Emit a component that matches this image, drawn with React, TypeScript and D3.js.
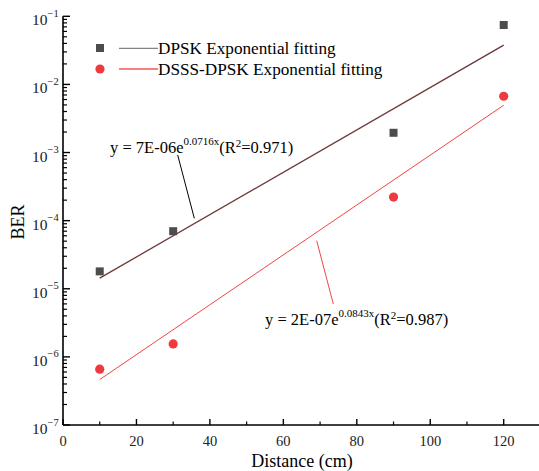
import React from "react";
import * as d3 from "d3";

const distances = [10, 30, 90, 120];
const dpskBER = [1.8e-5, 7.0e-5, 1.95e-3, 0.0745];
const dsssBER = [6.6e-7, 1.55e-6, 2.22e-4, 6.7e-3];
const seriesNames = ["DPSK Exponential fitting", "DSSS-DPSK Exponential fitting"];
const fitRange = [10, 120];
const dpskFit = { a: 7e-6, b: 0.0716, r2: "0.971", aLabel: "7E-06", bLabel: "0.0716x" };
const dsssFit = { a: 2e-7, b: 0.0843, r2: "0.987", aLabel: "2E-07", bLabel: "0.0843x" };
const xTicks = [0, 20, 40, 60, 80, 100, 120];
const yExponents = [-1, -2, -3, -4, -5, -6, -7];

const W = 539, H = 471;
const FONT = "Liberation Serif, Times New Roman, serif";

export default function App() {
  const x = d3.scaleLinear().domain([0, 130]).range([63, 63 + 130 * 3.6725]);
  const y = d3.scaleLog().domain([1e-7, 1e-1]).range([425, 16.3]);
  const x0 = x(0), y0 = y(1e-7);

  const fitLine = (f: { a: number; b: number }) => {
    const pts = fitRange.map((d) => [d, f.a * Math.exp(f.b * d)] as [number, number]);
    return d3.line<[number, number]>().x((d) => x(d[0])).y((d) => y(d[1]))(pts) || "";
  };

  const minorY: number[] = [];
  for (let e = -7; e < -1; e++) for (let k = 2; k <= 9; k++) minorY.push(k * Math.pow(10, e));
  const minorX = [10, 30, 50, 70, 90, 110, 130];

  const dpskLineColor = "#6e3838";
  const dsssLineColor = "#f04545";
  const sqColor = "#4d4d4d";
  const ptColor = "#ee3a3e";

  return (
    <svg width={W} height={H} style={{ position: "absolute", left: 0, top: 0, fontFamily: FONT }}>
      <rect width={W} height={H} fill="#fff" />
      <path d={fitLine(dpskFit)} stroke={dpskLineColor} strokeWidth={1.3} fill="none" />
      <path d={fitLine(dsssFit)} stroke={dsssLineColor} strokeWidth={1} fill="none" />
      {distances.map((d, i) => (
        <rect key={"s" + i} x={x(d) - 4} y={y(dpskBER[i]) - 4} width={8} height={8} fill={sqColor} />
      ))}
      {distances.map((d, i) => (
        <circle key={"c" + i} cx={x(d)} cy={y(dsssBER[i])} r={4.6} fill={ptColor} />
      ))}
      <line x1={x0} y1={y(1e-1)} x2={x0} y2={y0} stroke="#000" strokeWidth={1.6} />
      <line x1={x0} y1={y0} x2={W} y2={y0} stroke="#000" strokeWidth={1.6} />
      {yExponents.map((e) => (
        <line key={"ym" + e} x1={x0} x2={x0 + 7} y1={y(Math.pow(10, e))} y2={y(Math.pow(10, e))} stroke="#000" strokeWidth={1.4} />
      ))}
      {minorY.map((v, i) => (
        <line key={"yn" + i} x1={x0} x2={x0 + 4} y1={y(v)} y2={y(v)} stroke="#000" strokeWidth={1.2} />
      ))}
      {xTicks.map((t) => (
        <line key={"xm" + t} x1={x(t)} x2={x(t)} y1={y0} y2={y0 - 6} stroke="#000" strokeWidth={1.4} />
      ))}
      {minorX.map((t) => (
        <line key={"xn" + t} x1={x(t)} x2={x(t)} y1={y0} y2={y0 - 3.5} stroke="#000" strokeWidth={1.2} />
      ))}
      {xTicks.map((t) => (
        <text key={"xl" + t} x={x(t)} y={y0 + 21} fontSize={14.5} textAnchor="middle" fill="#222">{t}</text>
      ))}
      {yExponents.map((e) => (
        <text key={"yl" + e} x={32} y={y(Math.pow(10, e)) + 9} fontSize={15.5} fill="#222">
          10<tspan fontSize={10.5} dy={-8.5}>{"\u2212" + Math.abs(e)}</tspan>
        </text>
      ))}
      <text x={302} y={467} fontSize={18} textAnchor="middle">Distance (cm)</text>
      <text transform={`translate(24,222) rotate(-90)`} fontSize={18} textAnchor="middle">BER</text>
      <rect x={96} y={44} width={8} height={8} fill={sqColor} />
      <line x1={119} x2={158} y1={48.3} y2={48.3} stroke="#666" strokeWidth={1} />
      <text x={158} y={54} fontSize={17.2}>{seriesNames[0]}</text>
      <circle cx={100} cy={69} r={4.6} fill={ptColor} />
      <line x1={119} x2={158} y1={69} y2={69} stroke="#e00" strokeWidth={1} />
      <text x={158} y={75} fontSize={17.2}>{seriesNames[1]}</text>
      <line x1={177.7} y1={155} x2={194.3} y2={218.3} stroke="#000" strokeWidth={1} />
      <text x={110} y={153} fontSize={16.5}>
        {"y = " + dpskFit.aLabel + "e"}
        <tspan fontSize={11} dy={-8}>{dpskFit.bLabel}</tspan>
        <tspan dy={8}>(R</tspan>
        <tspan fontSize={11} dy={-6}>2</tspan>
        <tspan dy={6}>{"=" + dpskFit.r2 + ")"}</tspan>
      </text>
      <line x1={316.7} y1={240.7} x2={333.3} y2={304} stroke={dsssLineColor} strokeWidth={1} />
      <text x={265} y={325} fontSize={16.5}>
        {"y = " + dsssFit.aLabel + "e"}
        <tspan fontSize={11} dy={-8}>{dsssFit.bLabel}</tspan>
        <tspan dy={8}>(R</tspan>
        <tspan fontSize={11} dy={-6}>2</tspan>
        <tspan dy={6}>{"=" + dsssFit.r2 + ")"}</tspan>
      </text>
    </svg>
  );
}
